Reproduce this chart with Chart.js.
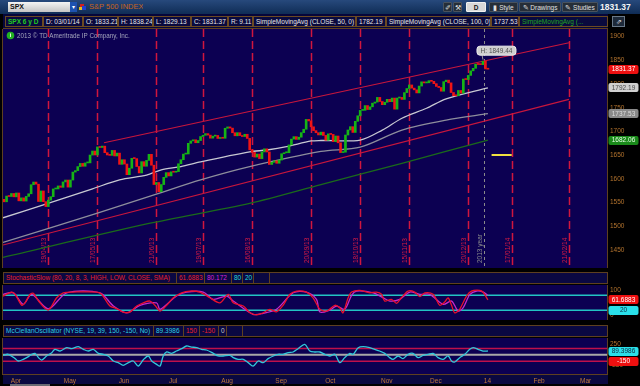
<!DOCTYPE html>
<html>
<head>
<meta charset="utf-8">
<script src="https://cdn.jsdelivr.net/npm/chart.js@4.4.1/dist/chart.umd.min.js"></script>
<style>
  body { margin: 0; width: 640px; height: 386px; background: #000; overflow: hidden; position: relative;
         font-family: "Liberation Sans", Arial, sans-serif; }
  .a { position: absolute; white-space: nowrap; overflow: hidden; box-sizing: border-box; }
  canvas { position: absolute; left: 0; }
  .row { position: absolute; left: 3px; width: 605px; height: 12px; background: #0a0842; border: 1px solid #5e4020; box-sizing: border-box; }
  .box { position: absolute; top: 0; height: 10px; border-right: 1px solid #5e4020; font-size: 6.5px; line-height: 10px;
         padding-left: 2px; white-space: nowrap; overflow: hidden; box-sizing: border-box; }
  .btn { position: absolute; top: 2px; height: 10px; background: #262e38; border: 1px solid #48525e; color: #e0e0e0;
         font-size: 6.5px; line-height: 9px; text-align: center; box-sizing: border-box; border-radius: 1px; }
</style>
</head>
<body>

<!-- top bar -->
<div class="a" style="left:0;top:0;width:640px;height:14px;background:linear-gradient(#27497c,#0f2c55);"></div>
<div class="a" style="left:8px;top:2px;width:62px;height:10px;background:linear-gradient(#f4f4f4,#c4c4c4);font-size:7px;line-height:10px;font-weight:bold;color:#111;padding-left:2px;">SPX</div>
<div class="a" style="left:70px;top:2px;width:7px;height:10px;background:#1d52b0;color:#fff;font-size:6px;line-height:10px;text-align:center;">&#9662;</div>
<div class="a" style="left:80px;top:4px;width:4px;height:4px;background:#d02020;"></div>
<div class="a" style="left:82px;top:6px;width:4px;height:4px;background:#2040d0;"></div>
<div class="a" style="left:79px;top:7px;width:3px;height:3px;background:#e0c020;"></div>
<div class="a" style="left:89px;top:2px;font-size:7.5px;line-height:10px;color:#c8641e;">S&amp;P 500 INDEX</div>

<div class="btn" style="left:443px;width:9px;">&#10000;</div>
<div class="btn" style="left:453px;width:9px;">&#9874;</div>
<div class="btn" style="left:466px;width:20px;background:#d8d8d8;border-color:#f0f0f0;color:#111;font-weight:bold;">D</div>
<div class="btn" style="left:489px;width:29px;">&#9646; Style</div>
<div class="btn" style="left:519px;width:42px;">&#9998; Drawings</div>
<div class="btn" style="left:562px;width:36px;">&#9998; Studies</div>
<div class="a" style="left:600px;top:2px;font-size:8.5px;line-height:11px;font-weight:bold;color:#f4f4f4;">1831.37</div>

<!-- info row -->
<div class="a" style="left:3px;top:14px;width:605px;height:15px;background:#06063a;border-bottom:1px solid #5e4020;"></div>
<div id="info" class="a" style="left:0;top:16px;width:640px;height:11px;"></div>
<div class="a" style="left:612px;top:16px;width:13px;height:11px;background:#1e2a3a;border:1px solid #6a7a8a;color:#e0e0e0;font-size:7px;line-height:9px;text-align:center;">&#8663;</div>

<canvas id="main" width="640" height="239" style="top:29px"></canvas>

<div class="row" style="top:272px;" id="stochHead"></div>
<canvas id="stoch" width="640" height="35" style="top:285px"></canvas>

<div class="row" style="top:325px;" id="mccHead"></div>
<div class="a" style="left:3px;top:375px;width:605px;height:9px;background:#0a0840;"></div>
<canvas id="mcc" width="640" height="48" style="top:338px"></canvas>
<div class="a" style="left:10px;top:384px;width:40px;height:2px;background:#6a6a72;"></div>

<script>
// ---------------- data ----------------
// trading-day index 0 = 25 Mar 2013, 197 = 3 Jan 2014
const firstOpen = 1556.89;
const closes = [
  1551.69, 1563.77, 1562.85, 1569.19,
  1562.17, 1570.25, 1553.69, 1559.98, 1553.28, 1563.07, 1568.61, 1587.73, 1593.37, 1588.85, 1552.36,
  1574.57, 1552.01, 1541.61, 1555.25, 1562.50, 1578.78, 1578.79, 1585.16, 1582.24, 1593.61, 1597.57,
  1582.70, 1597.59, 1614.42, 1617.50, 1625.96, 1632.69, 1626.67, 1633.70, 1633.77, 1650.34, 1658.78,
  1650.47, 1667.47, 1666.29, 1669.16, 1655.35, 1650.51, 1649.60, 1660.06, 1648.36, 1654.41, 1630.74,
  1640.42, 1631.38, 1608.90, 1622.56, 1643.38, 1642.81, 1626.13, 1612.52, 1636.36, 1626.73, 1639.04,
  1651.81, 1628.93, 1588.19, 1592.43, 1573.09, 1588.03, 1603.26, 1613.20, 1606.28,
  1614.96, 1614.08, 1615.41, 1631.89, 1640.46, 1652.32, 1652.62, 1675.02, 1680.19, 1682.50, 1676.26,
  1680.91, 1689.37, 1692.09, 1695.53, 1692.39, 1685.94, 1690.25, 1691.65, 1685.33, 1685.96, 1685.73,
  1706.87, 1709.67, 1707.14, 1697.37, 1690.91, 1697.48, 1691.42, 1689.47, 1694.16, 1685.39, 1661.32,
  1655.83, 1646.06, 1652.35, 1642.80, 1656.96, 1663.50, 1656.78, 1630.48, 1634.96, 1638.17, 1632.97,
  1639.77, 1653.08, 1655.08, 1655.17, 1671.71, 1683.99, 1689.13, 1683.42, 1687.99, 1697.60, 1704.76,
  1725.52, 1722.34, 1709.91, 1701.84, 1697.42, 1692.77, 1698.67, 1691.75, 1681.55,
  1695.00, 1693.87, 1678.66, 1690.50, 1676.12, 1655.45, 1656.40, 1692.56, 1703.20, 1710.14, 1698.06,
  1721.54, 1733.15, 1744.50, 1744.66, 1754.67, 1746.38, 1752.07, 1759.77, 1762.11, 1771.95, 1763.31, 1756.54,
  1761.64, 1767.93, 1762.97, 1770.49, 1747.15, 1770.61, 1771.89, 1767.69, 1782.00, 1790.62, 1798.18,
  1791.53, 1787.87, 1781.37, 1795.85, 1804.76, 1802.48, 1802.75, 1807.23, 1805.81,
  1800.90, 1795.15, 1792.81, 1785.03, 1805.09, 1808.37, 1802.62, 1782.22, 1775.50, 1775.32, 1786.54,
  1781.00, 1810.65, 1809.60, 1818.32, 1827.99, 1833.32, 1842.02, 1841.40, 1841.07, 1848.36,
  1831.98, 1831.37
];
const sma50 = [[-0.45,1518],[16,1545],[36,1579],[47,1598],[58,1608],[64,1619],[72,1626],[80,1636],[100,1657],
  [107,1661],[115,1668],[125,1680],[129,1681],[145,1682],[154,1703],[162,1728],[172,1749],[180,1769],[197,1792.19]];
const sma100 = [[-0.45,1466],[38,1528],[62,1568],[80,1598],[100,1626],[129,1658],[145,1667],[162,1703],[180,1724],[197,1737.53]];
const sma200 = [[-0.45,1434.6],[59,1506],[100,1548.5],[129,1588],[162,1633],[197,1682.06]];
const upperChannel = [[40.7,1676.3],[230,1887.3]];
const lowerChannel = [[-0.45,1460.5],[230,1767.9]];
const yellowMark = [[198.5,1650.4],[206.7,1650.4]];
const highMark = [195, 1849.44];

const expiryIdx = [18, 38, 62, 81, 101, 125, 145, 165, 189, 207, 230];
const expiryLabels = ['19/04/13','17/05/13','21/06/13','19/07/13','16/08/13','20/09/13','18/10/13','15/11/13','20/12/13','17/01/14','21/02/14'];
const yearIdx = 195.5;
const monthIdx = [4, 26, 48, 68, 90, 112, 132, 155, 175, 196, 217, 236];
const monthLabels = ['Apr','May','Jun','Jul','Aug','Sep','Oct','Nov','Dec','14','Feb','Mar'];
const priceTicks = [1450, 1500, 1550, 1600, 1650, 1700, 1750, 1800, 1850, 1900];

const stochK = [[-0.45,77],[3.1,93],[4.5,84],[7.2,40],[8.5,50],[10.6,84],[11.9,88],[14.6,50],[18,21],[21.4,70],
  [24.1,90],[28.2,93],[37.7,93],[39.7,84],[43.1,37],[45.8,27],[48.5,13],[51.2,13],[54,37],[56.7,50],[59.4,57],
  [61.4,40],[63.5,17],[66.2,40],[68.9,70],[72.3,90],[75.7,97],[79.7,93],[83.8,70],[87.9,50],[91.3,84],[93.3,50],
  [97.4,37],[100.1,10],[102.8,2],[105.5,10],[108.2,24],[110.9,14],[113.6,40],[116.4,84],[119.1,97],[123.1,93],
  [125.8,70],[128.6,24],[131.3,17],[134.7,40],[136.7,30],[138,10],[140.1,70],[141.5,93],[144.8,100],[148.9,90],
  [151.6,93],[153.7,84],[155,57],[157.7,64],[159.8,48],[161.8,70],[164.5,97],[167.2,93],[169.3,75],[171.3,90],
  [174.7,84],[177.4,40],[179.4,53],[180.8,70],[182.2,40],[183.5,10],[185.5,24],[188.3,77],[190.3,97],[193.7,100],
  [195,93],[197,61.6883]];
const stochD = [[-0.45,84],[3.8,90],[7.8,44],[11.2,84],[18,26],[25.5,90],[39,90],[44.5,37],[49.9,10],[55.3,40],
  [62.1,50],[63.5,24],[70.2,77],[74.3,93],[81.1,93],[85.2,64],[90.6,77],[93.3,57],[101.4,4],[105.5,8],[110.9,24],
  [117.7,90],[123.1,93],[127.2,64],[128.6,13],[132.6,21],[135.4,37],[138.7,24],[141.5,80],[143.5,97],[150.3,90],
  [154.4,70],[157.1,57],[161.1,64],[165.2,93],[169.3,84],[173.3,84],[178.8,44],[182.2,57],[184.9,17],[186.9,30],
  [189.7,84],[192.4,97],[195.1,93],[197,80.172]];
const stochLevels = [80, 20];
const stochTicks = [0, 100];

const mcc = [[-0.45,-13],[1.7,11],[4.5,-91],[5.8,-146],[7.8,-107],[9.9,-44],[11.2,11],[12.6,34],[14,-67],[15.3,-123],
  [17.3,-28],[19.4,50],[20.7,129],[22.8,89],[25.5,168],[27.5,144],[30.2,191],[32.3,129],[34.3,89],[36.3,129],
  [38.4,34],[40.4,11],[42.4,-28],[44.5,-146],[46.5,-185],[48.5,-248],[50.6,-185],[52.6,-146],[54.6,-264],
  [56.7,-115],[58.7,-28],[60.1,-146],[62.1,-224],[63.5,-264],[64.8,-28],[66.2,66],[68.2,34],[70.2,89],[72.3,144],
  [74.3,207],[76.3,183],[78.4,168],[80.4,129],[82.4,113],[85.2,34],[87.2,-28],[89.2,-28],[91.9,-13],[93.3,-67],
  [95.3,-107],[97.4,-107],[99.4,-185],[101.4,-264],[103.5,-146],[105.5,-185],[107.5,-91],[109.6,-28],[111.6,11],
  [113.6,11],[115.7,50],[117.7,66],[119.7,144],[122.4,246],[124.5,89],[126.5,66],[128.6,66],[130.6,11],[132.6,-28],
  [134.7,11],[136.7,-185],[138.7,-67],[140.8,34],[142.1,11],[144.2,168],[146.2,191],[148.9,168],[150.9,129],
  [152.9,89],[155,34],[157,-67],[158.4,-107],[160.4,-28],[162.4,-91],[164.5,11],[166.5,34],[168.6,-67],[170.6,-13],
  [172.7,11],[174.7,34],[176.7,-67],[178.8,-107],[180.8,-28],[182.2,-146],[183.5,-170],[185.5,-67],[187.6,11],
  [189.6,129],[191,168],[193,129],[195,89],[197,89.3986]];
const mccLevels = [150, -150];
const mccTicks = [-250, 250];

// ---------------- header rows ----------------
const infoBoxes = [
  [5, 38, 'SPX 6 y D', '#22cc22', true], [43, 40, 'D: 03/01/14'], [83, 35, 'O: 1833.21'], [118, 35, 'H: 1838.24'],
  [153, 38, 'L: 1829.13'], [191, 37, 'C: 1831.37'], [228, 25, 'R: 9.11'], [253, 103, 'SimpleMovingAvg (CLOSE, 50, 0)'],
  [356, 30, '1782.19'], [386, 105, 'SimpleMovingAvg (CLOSE, 100, 0)'], [491, 28, '1737.53'],
  [519, 89, 'SimpleMovingAvg (...', '#1fa61f']
];
const info = document.getElementById('info');
infoBoxes.forEach(b => {
  const d = document.createElement('div');
  d.className = 'a';
  d.style.cssText = `left:${b[0]}px;top:0;width:${b[1]}px;height:11px;border:1px solid #6b4a22;background:#0a0a3e;` +
    `color:${b[3] || '#e6e6e6'};font-size:6.5px;line-height:9px;padding-left:2px;${b[4] ? 'font-weight:bold;' : ''}`;
  d.textContent = b[2];
  info.appendChild(d);
});

function headRow(id, boxes) {
  const row = document.getElementById(id);
  boxes.forEach(b => {
    const d = document.createElement('div');
    d.className = 'box';
    d.style.left = b[0] + 'px';
    d.style.width = b[1] + 'px';
    d.style.color = b[3];
    d.textContent = b[2];
    row.appendChild(d);
  });
}
headRow('stochHead', [[0,173,'StochasticSlow (80, 20, 8, 3, HIGH, LOW, CLOSE, SMA)','#e8202c'],[173,28,'61.6883','#e8202c'],
  [201,27,'80.172','#d424d4'],[228,11,'80','#22d8d8'],[239,11,'20','#22d8d8'],[250,16,'','#000']]);
headRow('mccHead', [[0,150,'McClellanOscillator (NYSE, 19, 39, 150, -150, No)','#2ad0e2'],[150,30,'89.3986','#2ad0e2'],
  [180,16,'150','#e8202c'],[196,19,'-150','#e8202c'],[215,8,'0','#c8c8c8'],[223,16,'','#000']]);

// ---------------- charts ----------------
const X_MIN = -0.45, X_MAX = 245.5;
const NAVY = '#0c0052', FRAME = '#5e4020', TICK = '#b4742e';
const FONT = '"Liberation Sans", Arial, sans-serif';
const pts = a => a.map(p => ({ x: p[0], y: p[1] }));
const hline = v => [{ x: X_MIN, y: v }, { x: X_MAX, y: v }];

function lineSet(data, color, width, order, extra) {
  return Object.assign({ type: 'line', data, borderColor: color, borderWidth: width, pointRadius: 0,
    tension: 0.3, fill: false, order }, extra || {});
}

function xAxis(show) {
  return {
    type: 'linear', min: X_MIN, max: X_MAX, display: show, offset: false,
    grid: { display: false, drawTicks: false, offset: false }, border: { display: false },
    ticks: { color: '#c07838', font: { size: 6.5, family: FONT }, autoSkip: false, maxRotation: 0,
             labelOffset: 2, padding: 3, callback: (v, i) => monthLabels[i] },
    afterBuildTicks: s => { s.ticks = monthIdx.map(v => ({ value: v })); },
    afterFit: s => { s.height = show ? 12 : 0; s.paddingLeft = 0; s.paddingRight = 0; }
  };
}
function yAxis(min, max, ticks) {
  return {
    position: 'right', min, max,
    grid: { display: false, drawTicks: false }, border: { display: false },
    ticks: { color: TICK, font: { size: 6.5, family: FONT }, padding: 3, callback: v => String(v) },
    afterBuildTicks: s => { s.ticks = ticks.map(v => ({ value: v })); },
    afterFit: s => { s.width = 33; s.paddingTop = 0; s.paddingBottom = 0; }
  };
}

function bubble(g, y, text, bg, fg) {
  const x = 608.5, w = 30, h = 9;
  g.save();
  g.fillStyle = bg;
  g.beginPath();
  g.roundRect(x, Math.round(y - h / 2), w, h, 2);
  g.fill();
  g.fillStyle = fg;
  g.font = '6.5px ' + FONT;
  g.textAlign = 'center';
  g.textBaseline = 'middle';
  g.fillText(text, x + w / 2, Math.round(y) + 0.5);
  g.restore();
}

const panel = {
  id: 'panel',
  beforeDraw(c) {
    const a = c.chartArea, g = c.ctx;
    g.save(); g.fillStyle = NAVY; g.fillRect(a.left, a.top, a.width, a.height); g.restore();
  },
  afterDraw(c) {
    const a = c.chartArea, g = c.ctx;
    g.save(); g.strokeStyle = FRAME; g.lineWidth = 1;
    g.strokeRect(a.left - 0.5, a.top - 0.5, a.width + 1, a.height + 1); g.restore();
  }
};

const baseOpts = (scales) => ({
  responsive: false, animation: false, devicePixelRatio: 1, events: [],
  layout: { padding: { left: 3, right: 0, top: 0, bottom: 0 } },
  plugins: { legend: { display: false }, tooltip: { enabled: false } },
  scales
});

// main price panel
const candleData = closes.map((c, i) => ({ x: i, y: [i ? closes[i - 1] : firstOpen, c] }));
const mainMarks = {
  id: 'mainMarks',
  beforeDatasetsDraw(c) {
    const g = c.ctx, a = c.chartArea, xs = c.scales.x;
    g.save();
    g.font = '6.5px ' + FONT;
    g.textAlign = 'left';
    g.textBaseline = 'bottom';
    expiryIdx.forEach((v, i) => {
      const x = Math.round(xs.getPixelForValue(v)) + 0.5;
      g.strokeStyle = '#d0163e'; g.lineWidth = 1.5; g.setLineDash([8, 4]);
      g.beginPath(); g.moveTo(x, a.top); g.lineTo(x, a.bottom); g.stroke();
      g.save(); g.translate(x - 1.5, a.bottom - 5); g.rotate(-Math.PI / 2);
      g.fillStyle = '#d81a44'; g.fillText(expiryLabels[i], 0, 0); g.restore();
    });
    const xy = Math.round(xs.getPixelForValue(yearIdx)) + 0.5;
    g.strokeStyle = '#8a8a8a'; g.lineWidth = 1; g.setLineDash([3, 3]);
    g.beginPath(); g.moveTo(xy, a.top); g.lineTo(xy, a.bottom); g.stroke();
    g.save(); g.translate(xy - 1.5, a.bottom - 5); g.rotate(-Math.PI / 2);
    g.fillStyle = '#8c8c8c'; g.fillText('2013 year', 0, 0); g.restore();
    g.restore();
  },
  afterDraw(c) {
    const g = c.ctx, xs = c.scales.x, ys = c.scales.y;
    g.save();
    // copyright line
    g.fillStyle = '#22b022'; g.beginPath(); g.arc(10.5, 6.5, 3.8, 0, Math.PI * 2); g.fill();
    g.fillStyle = '#fff'; g.font = 'bold 6px ' + FONT; g.textAlign = 'center'; g.textBaseline = 'middle';
    g.fillText('i', 10.5, 6.8);
    g.fillStyle = '#a4a4bc'; g.font = '6.3px ' + FONT; g.textAlign = 'left';
    g.fillText('2013 \u00a9 TD Ameritrade IP Company, Inc.', 17, 7.5);
    // high callout
    const hx = xs.getPixelForValue(highMark[0]), hy = ys.getPixelForValue(highMark[1]);
    g.strokeStyle = '#9a9a9a'; g.lineWidth = 1;
    g.beginPath(); g.moveTo(hx - 1, hy - 6); g.lineTo(hx, hy - 1); g.stroke();
    g.fillStyle = '#cfcfcf'; g.beginPath(); g.roundRect(hx - 6, hy - 14.5, 39, 9, 3); g.fill();
    g.strokeStyle = '#eeeeee'; g.stroke();
    g.fillStyle = '#505050'; g.font = '6.5px ' + FONT; g.textAlign = 'center';
    g.fillText('H: ' + highMark[1].toFixed(2), hx + 13.5, hy - 9.7);
    g.restore();
    const lastC = closes[closes.length - 1];
    const l50 = sma50[sma50.length - 1][1], l100 = sma100[sma100.length - 1][1], l200 = sma200[sma200.length - 1][1];
    bubble(g, ys.getPixelForValue(lastC), lastC.toFixed(2), '#ee1010', '#ffffff');
    bubble(g, ys.getPixelForValue(l50), l50.toFixed(2), '#d0d0d0', '#4a4a4a');
    bubble(g, ys.getPixelForValue(l100), l100.toFixed(2), '#8a8a8a', '#dedede');
    bubble(g, ys.getPixelForValue(l200), l200.toFixed(2), '#1a8a1a', '#e6ffe6');
  }
};

new Chart(document.getElementById('main'), {
  type: 'bar',
  data: {
    datasets: [
      { type: 'bar', data: candleData, barThickness: 2, minBarLength: 1, borderWidth: 0, grouped: false, order: 0,
        backgroundColor: ctx => { const d = candleData[ctx.dataIndex]; return d && d.y[1] >= d.y[0] ? '#16b416' : '#f01414'; } },
      lineSet(pts(sma50), '#c8c8d2', 1.3, 2),
      lineSet(pts(sma100), '#8e8e9c', 1.3, 3),
      lineSet(pts(sma200), '#1b6a1b', 1.3, 4),
      lineSet(pts(upperChannel), '#c8163c', 1.2, 5, { tension: 0 }),
      lineSet(pts(lowerChannel), '#c8163c', 1.2, 5, { tension: 0 }),
      lineSet(pts(yellowMark), '#f0e040', 2, 1, { tension: 0 })
    ]
  },
  options: baseOpts({ x: xAxis(false), y: yAxis(1412.03, 1916.24, priceTicks) }),
  plugins: [panel, mainMarks]
});

// stochastic panel
new Chart(document.getElementById('stoch'), {
  type: 'line',
  data: {
    datasets: [
      lineSet(hline(stochLevels[0]), '#22c4c4', 1.6, 3, { tension: 0 }),
      lineSet(hline(stochLevels[1]), '#22c4c4', 1.6, 3, { tension: 0 }),
      lineSet(pts(stochD), '#c828c8', 1.3, 2),
      lineSet(pts(stochK), '#e8102c', 1.3, 1)
    ]
  },
  options: baseOpts({ x: xAxis(false), y: yAxis(-18.8, 121.2, stochTicks) }),
  plugins: [panel, {
    id: 'stochBubbles',
    afterDraw(c) {
      const ys = c.scales.y, last = stochK[stochK.length - 1][1];
      bubble(c.ctx, ys.getPixelForValue(last), last.toFixed(4), '#ee1010', '#ffffff');
      bubble(c.ctx, ys.getPixelForValue(stochLevels[1]), String(stochLevels[1]), '#2ae0ea', '#0a2a40');
    }
  }]
});

// McClellan panel
new Chart(document.getElementById('mcc'), {
  type: 'line',
  data: {
    datasets: [
      lineSet(hline(mccLevels[0]), '#c0104a', 1.5, 3, { tension: 0 }),
      lineSet(hline(mccLevels[1]), '#c0104a', 1.5, 3, { tension: 0 }),
      lineSet(hline(0), '#a8a8a8', 2, 3, { tension: 0 }),
      lineSet(pts(mcc), '#30c8da', 1.3, 1)
    ]
  },
  options: baseOpts({ x: xAxis(true), y: yAxis(-451.8, 395.3, mccTicks) }),
  plugins: [panel, {
    id: 'mccBubbles',
    afterDraw(c) {
      const ys = c.scales.y, last = mcc[mcc.length - 1][1];
      bubble(c.ctx, ys.getPixelForValue(last), last.toFixed(4), '#2ae0ea', '#0a2a40');
      bubble(c.ctx, ys.getPixelForValue(mccLevels[1]), String(mccLevels[1]), '#ee1010', '#ffffff');
    }
  }]
});
</script>
</body>
</html>
